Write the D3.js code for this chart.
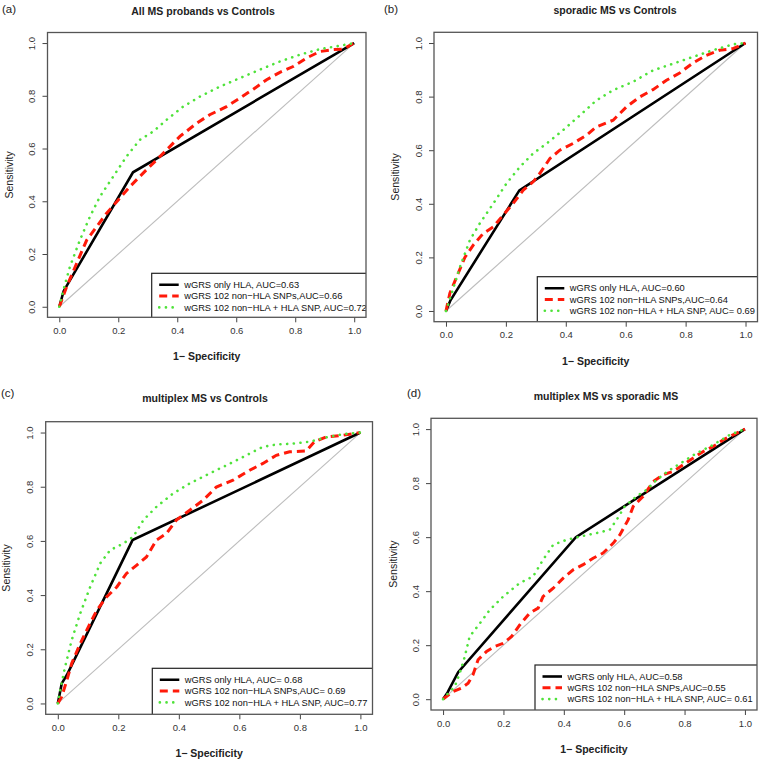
<!DOCTYPE html>
<html>
<head>
<meta charset="utf-8">
<script src="https://cdn.jsdelivr.net/npm/d3@7"></script>
<style>
  body { margin: 0; background: #fff; }
  svg { font-family: "Liberation Sans", Arial, Helvetica, sans-serif; }
</style>
</head>
<body>
<div id="chart-area"></div>
<script>
// ROC curves, [1-specificity, sensitivity]
const ticks = [0, 0.2, 0.4, 0.6, 0.8, 1.0]

const aHla = [[0,0],[0.015,0.06],[0.25,0.51],[1,1]]
const aNonHla = [[0,0],[0.025,0.076],[0.059,0.165],[0.093,0.253],[0.127,0.304],[0.16,0.354],[0.2,0.405],[0.24,0.456],[0.273,0.494],[0.307,0.532],[0.33,0.557],[0.364,0.595],[0.409,0.646],[0.466,0.696],[0.51,0.728],[0.567,0.759],[0.612,0.791],[0.658,0.825],[0.703,0.861],[0.748,0.889],[0.793,0.911],[0.838,0.943],[0.884,0.968],[0.929,0.975],[0.963,0.977],[1,1]]
const aBoth = [[0,0],[0.014,0.063],[0.036,0.152],[0.07,0.253],[0.104,0.342],[0.138,0.418],[0.183,0.494],[0.228,0.57],[0.273,0.633],[0.319,0.665],[0.364,0.709],[0.42,0.759],[0.477,0.797],[0.545,0.835],[0.612,0.867],[0.68,0.899],[0.748,0.93],[0.816,0.956],[0.884,0.977],[0.952,0.99],[1,1]]

const bHla = [[0,0],[0.015,0.04],[0.245,0.45],[1,1]]
const bNonHla = [[0,0],[0.013,0.066],[0.036,0.128],[0.063,0.2],[0.091,0.246],[0.124,0.289],[0.158,0.314],[0.191,0.358],[0.224,0.401],[0.258,0.451],[0.291,0.482],[0.313,0.513],[0.347,0.569],[0.38,0.6],[0.424,0.625],[0.469,0.656],[0.502,0.687],[0.558,0.712],[0.602,0.761],[0.647,0.799],[0.691,0.826],[0.736,0.861],[0.78,0.888],[0.824,0.925],[0.869,0.954],[0.913,0.973],[0.958,0.979],[1,1]]
const bBoth = [[0,0],[0.019,0.066],[0.047,0.165],[0.08,0.265],[0.113,0.327],[0.158,0.401],[0.202,0.476],[0.247,0.538],[0.291,0.588],[0.336,0.625],[0.391,0.675],[0.447,0.73],[0.502,0.786],[0.558,0.824],[0.624,0.855],[0.691,0.898],[0.758,0.923],[0.824,0.948],[0.891,0.973],[0.958,0.995],[1,1]]

const cHla = [[0,0],[0.013,0.074],[0.03,0.105],[0.247,0.603],[1,1]]
const cNonHla = [[0,0],[0.013,0.025],[0.03,0.086],[0.046,0.148],[0.074,0.221],[0.101,0.283],[0.129,0.344],[0.162,0.394],[0.195,0.43],[0.227,0.48],[0.26,0.51],[0.293,0.541],[0.326,0.603],[0.359,0.627],[0.392,0.677],[0.436,0.713],[0.48,0.75],[0.524,0.799],[0.579,0.824],[0.634,0.861],[0.678,0.886],[0.722,0.916],[0.766,0.929],[0.821,0.932],[0.848,0.966],[0.887,0.984],[0.942,0.99],[1,1]]
const cBoth = [[0,0],[0.008,0.049],[0.024,0.135],[0.046,0.234],[0.074,0.332],[0.107,0.43],[0.14,0.517],[0.173,0.566],[0.216,0.59],[0.249,0.615],[0.283,0.677],[0.326,0.726],[0.381,0.775],[0.436,0.812],[0.491,0.843],[0.557,0.879],[0.623,0.916],[0.678,0.947],[0.722,0.956],[0.777,0.959],[0.832,0.966],[0.887,0.982],[0.942,0.994],[1,1]]

const dHla = [[0,0],[0.015,0.025],[0.05,0.1],[0.44,0.6],[1,1]]
const dNonHla = [[0,0],[0.011,0.01],[0.033,0.028],[0.061,0.041],[0.083,0.059],[0.099,0.09],[0.116,0.146],[0.144,0.177],[0.171,0.195],[0.199,0.207],[0.227,0.232],[0.254,0.275],[0.287,0.319],[0.315,0.337],[0.331,0.38],[0.365,0.411],[0.398,0.448],[0.431,0.479],[0.464,0.498],[0.497,0.522],[0.53,0.541],[0.564,0.578],[0.586,0.609],[0.613,0.664],[0.63,0.714],[0.663,0.751],[0.696,0.806],[0.729,0.831],[0.762,0.843],[0.796,0.868],[0.829,0.893],[0.862,0.917],[0.895,0.936],[0.928,0.96],[0.961,0.979],[1,1]]
const dBoth = [[0,0],[0.017,0.022],[0.039,0.047],[0.055,0.096],[0.072,0.158],[0.088,0.232],[0.122,0.281],[0.155,0.331],[0.199,0.38],[0.254,0.43],[0.298,0.454],[0.331,0.516],[0.365,0.572],[0.409,0.59],[0.453,0.602],[0.508,0.615],[0.552,0.627],[0.575,0.664],[0.602,0.714],[0.641,0.751],[0.674,0.775],[0.707,0.812],[0.751,0.849],[0.796,0.88],[0.84,0.911],[0.895,0.942],[0.95,0.979],[1,1]]

const titles = ['All MS probands vs Controls', 'sporadic MS vs Controls', 'multiplex MS vs Controls', 'multiplex MS vs sporadic MS']
const panelTags = ['(a)', '(b)', '(c)', '(d)']
const legendA = ['wGRS only HLA, AUC=0.63', 'wGRS 102 non\u2212HLA SNPs,AUC=0.66', 'wGRS 102 non\u2212HLA + HLA SNP, AUC=0.72']
const legendB = ['wGRS only HLA, AUC=0.60', 'wGRS 102 non\u2212HLA SNPs,AUC=0.64', 'wGRS 102 non\u2212HLA + HLA SNP, AUC= 0.69']
const legendC = ['wGRS only HLA, AUC= 0.68', 'wGRS 102 non\u2212HLA SNPs,AUC= 0.69', 'wGRS 102 non\u2212HLA + HLA SNP, AUC=0.77']
const legendD = ['wGRS only HLA, AUC=0.58', 'wGRS 102 non\u2212HLA SNPs,AUC=0.55', 'wGRS 102 non\u2212HLA + HLA SNP, AUC= 0.61']

// panel layout (plot box in page pixels)
const panels = [
  { box: [47.5, 32.5, 366, 317.3], tag: [2, 13], title: [203, 15], xlab: 360, ylab: 9, leg: [151.7, 273.3], series: [aHla, aNonHla, aBoth], legend: legendA },
  { box: [434, 32.3, 757.5, 321.7], tag: [384, 13], title: [615, 13.5], xlab: 365, ylab: 395, leg: [537.3, 276.7], series: [bHla, bNonHla, bBoth], legend: legendB },
  { box: [45.7, 421.7, 372.5, 714.3], tag: [1, 397], title: [205, 402], xlab: 757, ylab: 6, leg: [152.3, 668.3], series: [cHla, cNonHla, cBoth], legend: legendC },
  { box: [431, 418.3, 757, 710], tag: [407, 397], title: [606, 400], xlab: 753, ylab: 393, leg: [535, 665], series: [dHla, dNonHla, dBoth], legend: legendD }
]
panels.forEach((p, i) => { p.title.push(titles[i]); p.tag.push(panelTags[i]) })

const styles = [
  { color: '#000000', width: 2.6, dash: null, cap: 'butt' },
  { color: '#ff1a0a', width: 3, dash: '8,5', cap: 'butt' },
  { color: '#4fe23a', width: 2.6, dash: '0.1,6.6', cap: 'round' }
]

const svg = d3.select('#chart-area').append('svg')
  .attr('width', 760)
  .attr('height', 760)

panels.forEach(p => {
  const [l, t, r, b] = p.box
  const x = d3.scaleLinear().domain([-0.04, 1.04]).range([l, r])
  const y = d3.scaleLinear().domain([-0.04, 1.04]).range([b, t])

  svg.append('text')
    .attr('x', p.tag[0]).attr('y', p.tag[1])
    .attr('font-size', '11.5px')
    .attr('fill', '#222')
    .text(p.tag[2])

  svg.append('text')
    .attr('x', p.title[0]).attr('y', p.title[1])
    .attr('font-size', '10.5px')
    .attr('font-weight', 'bold')
    .attr('text-anchor', 'middle')
    .attr('fill', '#222')
    .text(p.title[2])

  // axes
  const xAxis = svg.append('g')
    .attr('transform', `translate(0, ${b})`)
    .call(d3.axisBottom(x).tickValues(ticks).tickFormat(d3.format('.1f')).tickSize(5).tickSizeOuter(0).tickPadding(5))
  const yAxis = svg.append('g')
    .attr('transform', `translate(${l}, 0)`)
    .call(d3.axisLeft(y).tickValues(ticks).tickFormat(d3.format('.1f')).tickSize(5).tickSizeOuter(0))
  ;[xAxis, yAxis].forEach(ax => {
    ax.select('.domain').remove()
    ax.selectAll('line').attr('stroke', '#444')
    ax.selectAll('text')
      .attr('font-size', '9.5px')
      .attr('fill', '#333')
      .attr('font-family', '"Liberation Sans", Arial, sans-serif')
  })
  yAxis.selectAll('text')
    .attr('x', null).attr('dy', null)
    .attr('text-anchor', 'middle')
    .attr('transform', 'translate(-12.5, 0) rotate(-90)')

  svg.append('text')
    .attr('x', (l + r) / 2).attr('y', p.xlab)
    .attr('font-size', '10.5px')
    .attr('font-weight', 'bold')
    .attr('text-anchor', 'middle')
    .attr('fill', '#222')
    .text('1\u2212 Specificity')

  svg.append('text')
    .attr('transform', `translate(${p.ylab + 4}, ${(t + b) / 2}) rotate(-90)`)
    .attr('font-size', '10.5px')
    .attr('text-anchor', 'middle')
    .attr('fill', '#222')
    .text('Sensitivity')

  const clipId = 'clip' + Math.round(l) + Math.round(t)
  svg.append('clipPath').attr('id', clipId)
    .append('rect').attr('x', l).attr('y', t).attr('width', r - l).attr('height', b - t)

  const plot = svg.append('g').attr('clip-path', `url(#${clipId})`)

  plot.append('line')
    .attr('x1', x(0)).attr('y1', y(0))
    .attr('x2', x(1)).attr('y2', y(1))
    .attr('stroke', '#bdbdbd')
    .attr('stroke-width', 1.1)

  const line = d3.line().x(d => x(d[0])).y(d => y(d[1]))

  p.series.forEach((s, i) => {
    plot.append('path')
      .datum(s)
      .attr('d', line)
      .attr('fill', 'none')
      .attr('stroke', styles[i].color)
      .attr('stroke-width', styles[i].width)
      .attr('stroke-dasharray', styles[i].dash)
      .attr('stroke-linecap', styles[i].cap)
  })

  // legend
  const lg = plot.append('g').attr('transform', `translate(${p.leg[0]}, ${p.leg[1]})`)
  lg.append('rect')
    .attr('x', 0).attr('y', 0)
    .attr('width', r - p.leg[0] + 5).attr('height', b - p.leg[1] + 5)
    .attr('fill', '#fff')
    .attr('stroke', '#222')
    .attr('stroke-width', 1.2)
  p.legend.forEach((txt, i) => {
    const yy = 11.5 + i * 11.3
    lg.append('line')
      .attr('x1', 7.5).attr('x2', 27)
      .attr('y1', yy).attr('y2', yy)
      .attr('stroke', styles[i].color)
      .attr('stroke-width', styles[i].width)
      .attr('stroke-dasharray', styles[i].dash)
      .attr('stroke-linecap', styles[i].cap)
    lg.append('text')
      .attr('x', 32.5).attr('y', yy + 3.3)
      .attr('font-size', '9.3px')
      .attr('fill', '#111')
      .text(txt)
  })

  svg.append('rect')
    .attr('x', l).attr('y', t)
    .attr('width', r - l).attr('height', b - t)
    .attr('fill', 'none')
    .attr('stroke', '#555')
    .attr('stroke-width', 1.3)
})
</script>
</body>
</html>
